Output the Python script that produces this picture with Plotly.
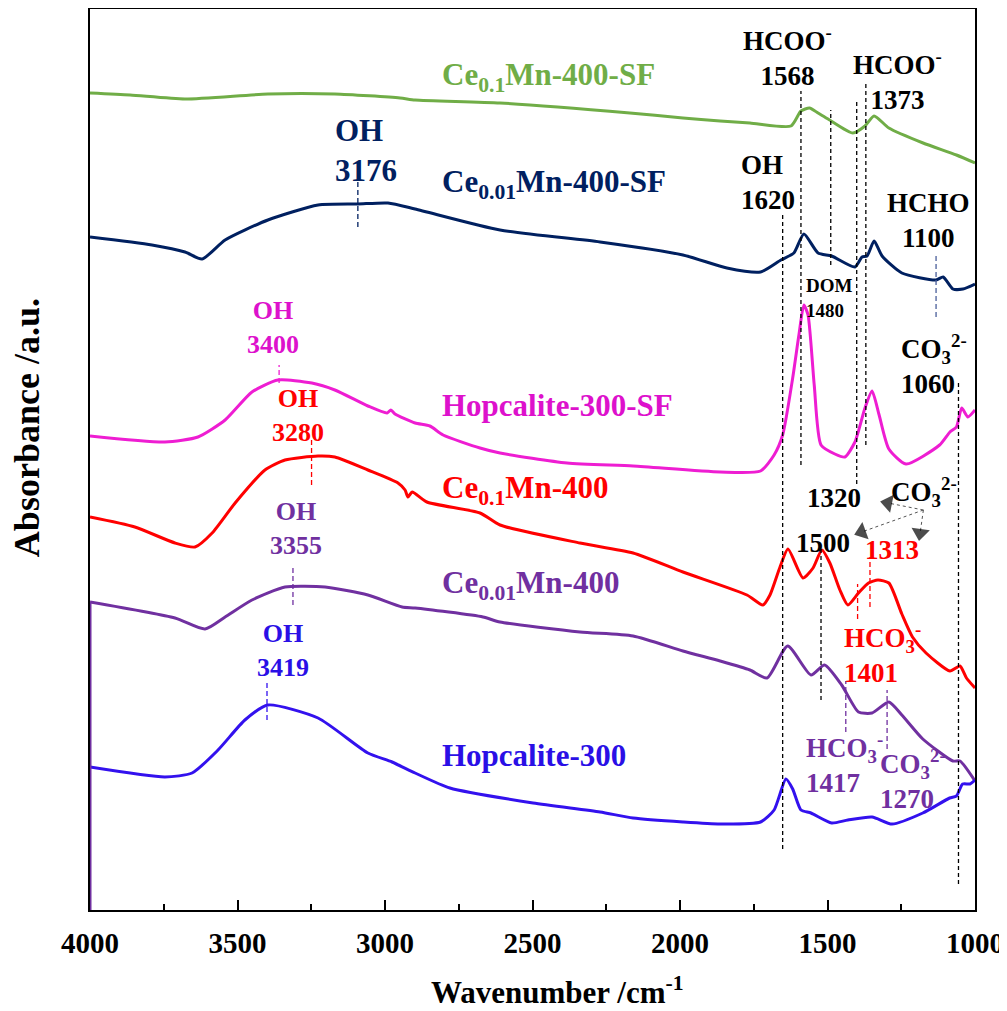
import plotly.graph_objects as go

# ---------------- data (wavenumber cm-1, absorbance a.u. with offsets) ----------------
green_wn = [4000, 3864, 3678, 3397, 3170, 2949, 2898, 2610, 2170, 1990, 1864, 1763, 1624, 1590, 1561, 1532, 1498, 1414, 1373, 1342, 1292, 1176, 1063, 1000]
green_ab = [8.17, 8.15, 8.11, 8.16, 8.16, 8.12, 8.10, 8.07, 7.97, 7.92, 7.89, 7.87, 7.84, 7.99, 8.02, 7.97, 7.91, 7.77, 7.84, 7.94, 7.82, 7.67, 7.55, 7.47]

navy_wn = [4000, 3790, 3678, 3620, 3542, 3397, 3227, 3092, 2990, 2898, 2610, 2271, 1990, 1841, 1727, 1658, 1614, 1580, 1532, 1486, 1407, 1383, 1366, 1342, 1315, 1248, 1132, 1108, 1075, 1041, 1000]
navy_ab = [6.73, 6.65, 6.58, 6.51, 6.70, 6.90, 7.05, 7.06, 7.07, 7.01, 6.80, 6.68, 6.55, 6.42, 6.38, 6.50, 6.57, 6.76, 6.57, 6.54, 6.43, 6.53, 6.54, 6.69, 6.54, 6.37, 6.30, 6.33, 6.21, 6.21, 6.26]

mag_wn = [4000, 3746, 3634, 3542, 3451, 3363, 3248, 3170, 3058, 2993, 2980, 2966, 2898, 2848, 2803, 2678, 2610, 2383, 2159, 1864, 1727, 1681, 1652, 1618, 1597, 1580, 1566, 1545, 1522, 1475, 1441, 1407, 1373, 1349, 1325, 1292, 1234, 1120, 1085, 1063, 1045, 1024, 1000]
mag_ab = [4.74, 4.68, 4.73, 4.90, 5.18, 5.30, 5.27, 5.20, 5.04, 4.97, 5.00, 4.96, 4.87, 4.84, 4.75, 4.62, 4.57, 4.47, 4.44, 4.38, 4.39, 4.55, 4.75, 5.32, 5.75, 6.05, 5.95, 5.25, 4.65, 4.56, 4.53, 4.68, 5.02, 5.19, 4.95, 4.61, 4.46, 4.65, 4.78, 4.83, 5.02, 4.93, 5.00]

red_wn = [4000, 3848, 3712, 3644, 3586, 3508, 3407, 3339, 3227, 3170, 3058, 2956, 2932, 2922, 2908, 2858, 2678, 2610, 2339, 2159, 1990, 1773, 1719, 1695, 1661, 1634, 1583, 1549, 1519, 1492, 1458, 1431, 1395, 1361, 1329, 1292, 1248, 1212, 1166, 1085, 1051, 1029, 1000]
red_ab = [3.93, 3.83, 3.67, 3.63, 3.77, 4.07, 4.40, 4.50, 4.54, 4.53, 4.40, 4.27, 4.20, 4.13, 4.18, 4.08, 3.97, 3.85, 3.67, 3.57, 3.38, 3.15, 3.05, 3.15, 3.43, 3.61, 3.32, 3.42, 3.60, 3.47, 3.20, 3.05, 3.17, 3.27, 3.30, 3.27, 2.96, 2.73, 2.57, 2.39, 2.44, 2.32, 2.22]

pur_wn = [4000, 3712, 3610, 3542, 3451, 3339, 3203, 3058, 2942, 2898, 2668, 2610, 2339, 2159, 1990, 1864, 1763, 1705, 1635, 1556, 1510, 1452, 1395, 1349, 1292, 1248, 1177, 1075, 1051, 1000]
pur_ab = [3.08, 2.92, 2.81, 2.93, 3.10, 3.23, 3.23, 3.15, 3.03, 3.02, 2.93, 2.88, 2.78, 2.74, 2.59, 2.49, 2.40, 2.32, 2.64, 2.35, 2.45, 2.25, 1.98, 1.97, 2.08, 1.95, 1.71, 1.49, 1.49, 1.29]

blue_wn = [4000, 3746, 3654, 3566, 3475, 3397, 3227, 3058, 2976, 2898, 2780, 2498, 2271, 2159, 1990, 1864, 1727, 1681, 1641, 1618, 1590, 1556, 1486, 1431, 1349, 1281, 1177, 1086, 1063, 1042, 1017, 1000]
blue_ab = [1.43, 1.33, 1.37, 1.60, 1.90, 2.05, 1.92, 1.57, 1.48, 1.37, 1.22, 1.07, 0.98, 0.92, 0.88, 0.86, 0.88, 1.00, 1.31, 1.21, 1.00, 0.97, 0.87, 0.90, 0.93, 0.86, 0.97, 1.12, 1.14, 1.26, 1.26, 1.30]

series_names = ["Ce<sub>0.1</sub>Mn-400-SF", "Ce<sub>0.01</sub>Mn-400-SF", "Hopcalite-300-SF",
                "Ce<sub>0.1</sub>Mn-400", "Ce<sub>0.01</sub>Mn-400", "Hopcalite-300"]
x_ticks = [4000, 3500, 3000, 2500, 2000, 1500, 1000]

# peak marker lines: (wavenumber, y_low, y_high)
black_marks_wn = [1652, 1590, 1489, 1401, 1370, 1522, 1056]
black_marks_lo = [0.61, 4.45, 6.45, 4.26, 4.65, 2.10, 0.26]
black_marks_hi = [6.96, 8.19, 8.00, 8.09, 8.29, 3.62, 5.27]
color_marks_wn = [1132, 3092, 3359, 3249, 3312, 3400, 1398, 1356, 1438, 1298]
color_marks_lo = [5.93, 6.83, 5.27, 4.25, 3.05, 1.90, 2.91, 3.03, 1.78, 1.61]
color_marks_hi = [6.55, 7.28, 5.45, 4.70, 3.42, 2.27, 3.26, 3.53, 2.29, 2.20]

# ---------------- style ----------------
FONT = "Times New Roman, Liberation Serif, serif"
C_GREEN, C_NAVY, C_MAG = "#70AD47", "#002060", "#EE1DD2"
C_RED, C_PUR, C_BLUE = "#FF0000", "#7030A0", "#3311EE"
color_marks_col = ["#4A5F9A", C_NAVY, C_MAG, C_RED, C_PUR, C_BLUE, C_RED, C_RED, C_PUR, C_PUR]

fig = go.Figure()

curves = [(green_wn, green_ab, C_GREEN), (navy_wn, navy_ab, C_NAVY), (mag_wn, mag_ab, C_MAG),
          (red_wn, red_ab, C_RED), (pur_wn, pur_ab, C_PUR), (blue_wn, blue_ab, C_BLUE)]
for (xw, ya, col), nm in zip(curves, series_names):
    fig.add_trace(go.Scatter(x=xw, y=ya, mode="lines", name=nm,
                             line=dict(color=col, width=3, shape="spline", smoothing=0.6),
                             showlegend=False, hoverinfo="skip"))
# purple spectrum begins from baseline
fig.add_trace(go.Scatter(x=[pur_wn[0], pur_wn[0]], y=[0, pur_ab[0]], mode="lines",
                         line=dict(color=C_PUR, width=3), showlegend=False, hoverinfo="skip"))

for w, lo, hi in zip(black_marks_wn, black_marks_lo, black_marks_hi):
    fig.add_trace(go.Scatter(x=[w, w], y=[lo, hi], mode="lines",
                             line=dict(color="black", width=1.3, dash="4px,3px"),
                             showlegend=False, hoverinfo="skip"))
for w, lo, hi, c in zip(color_marks_wn, color_marks_lo, color_marks_hi, color_marks_col):
    fig.add_trace(go.Scatter(x=[w, w], y=[lo, hi], mode="lines",
                             line=dict(color=c, width=1.3, dash="5px,3px"),
                             showlegend=False, hoverinfo="skip"))

# arrows from the CO3 2- label
tail = (1175, 4.00)
heads = [(1295, 4.07), (1384, 3.78), (1186, 3.77)]
for hx, hy in heads:
    fig.add_trace(go.Scatter(x=[tail[0], hx], y=[tail[1], hy], mode="lines+markers",
                             line=dict(color="#555555", width=1, dash="dot"),
                             marker=dict(symbol="triangle-up", size=[0, 16], color="black",
                                         line=dict(width=0), angleref="previous"),
                             showlegend=False, hoverinfo="skip"))

def ann(text, x, y, color, size, xanchor="center", align="center"):
    fig.add_annotation(x=x, y=y, xref="x", yref="y", text=text, showarrow=False,
                       xanchor=xanchor, yanchor="middle", align=align,
                       font=dict(family=FONT, size=size, color=color, weight="bold"))

# curve labels
lab_y = [8.33, 7.26, 5.05, 4.20, 3.25, 1.55]
lab_c = [C_GREEN, C_NAVY, "#DD11CC", C_RED, C_PUR, "#2A0FE6"]
for nm, yy, cc in zip(series_names, lab_y, lab_c):
    ann(nm, 2814, yy, cc, 31, xanchor="left", align="left")

# peak annotations
ann("OH<br>3176", 3176, 7.60, C_NAVY, 31, "left", "left")
ann("HCOO<sup>-</sup><br>1568", 1634, 8.54, "black", 27)
ann("HCOO<sup>-</sup><br>1373", 1262, 8.30, "black", 27)
ann("OH<br>1620", 1801, 7.28, "black", 27, "left", "left")
ann("HCHO<br>1100", 1156, 6.90, "black", 27)
ann("DOM<br>1480", 1580, 6.12, "black", 19, "left", "left")
ann("CO<sub>3</sub><sup>2-</sup><br>1060", 1258, 5.46, "black", 27, "left", "left")
ann("1320", 1478, 4.12, "black", 27)
ann("CO<sub>3</sub><sup>2-</sup>", 1292, 4.18, "black", 27, "left", "left")
ann("1500", 1515, 3.67, "black", 27)
ann("1313", 1281, 3.60, C_RED, 27)
ann("HCO<sub>3</sub><sup>-</sup><br>1401", 1452, 2.57, C_RED, 27, "left", "left")
ann("HCO<sub>3</sub><sup>-</sup><br>1417", 1578, 1.47, C_PUR, 27, "left", "left")
ann("CO<sub>3</sub><sup>2-</sup><br>1270", 1329, 1.31, C_PUR, 27, "left", "left")
ann("OH<br>3400", 3380, 5.83, "#DD11CC", 26)
ann("OH<br>3280", 3295, 4.95, C_RED, 26)
ann("OH<br>3355", 3302, 3.82, C_PUR, 26)
ann("OH<br>3419", 3346, 2.60, "#2A0FE6", 26)

# axis titles
fig.add_annotation(x=-0.071, y=0.535, xref="paper", yref="paper", text="Absorbance /a.u.",
                   textangle=-90, showarrow=False, xanchor="center", yanchor="middle",
                   font=dict(family=FONT, size=36, color="black", weight="bold"))
fig.add_annotation(x=0.528, y=-0.089, xref="paper", yref="paper", text="Wavenumber /cm<sup>-1</sup>",
                   showarrow=False, xanchor="center", yanchor="middle",
                   font=dict(family=FONT, size=31, color="black", weight="bold"))

# page body adds an 8px margin, so the figure is 8px smaller than the window
fig.update_layout(
    width=999, height=1003,
    margin=dict(l=82, r=32, t=1, b=101, autoexpand=False),
    paper_bgcolor="white", plot_bgcolor="white",
    showlegend=False,
)
fig.update_xaxes(range=[4000, 1000], tickvals=x_ticks, ticktext=[str(v) for v in x_ticks],
                 showline=True, mirror=True, linecolor="black", linewidth=2,
                 ticks="inside", ticklen=10, tickwidth=1.5, tickcolor="black",
                 minor=dict(ticks="inside", ticklen=6, tickwidth=1.5, tickcolor="black", dtick=250),
                 showgrid=False, zeroline=False, ticklabelstandoff=6, automargin=False,
                 tickfont=dict(family=FONT, size=29, color="black", weight="bold"))
fig.update_yaxes(range=[0, 9.01], showline=True, mirror=True, linecolor="black", linewidth=2,
                 ticks="", showticklabels=False, showgrid=False, zeroline=False, automargin=False)

fig.write_html("out.html")
